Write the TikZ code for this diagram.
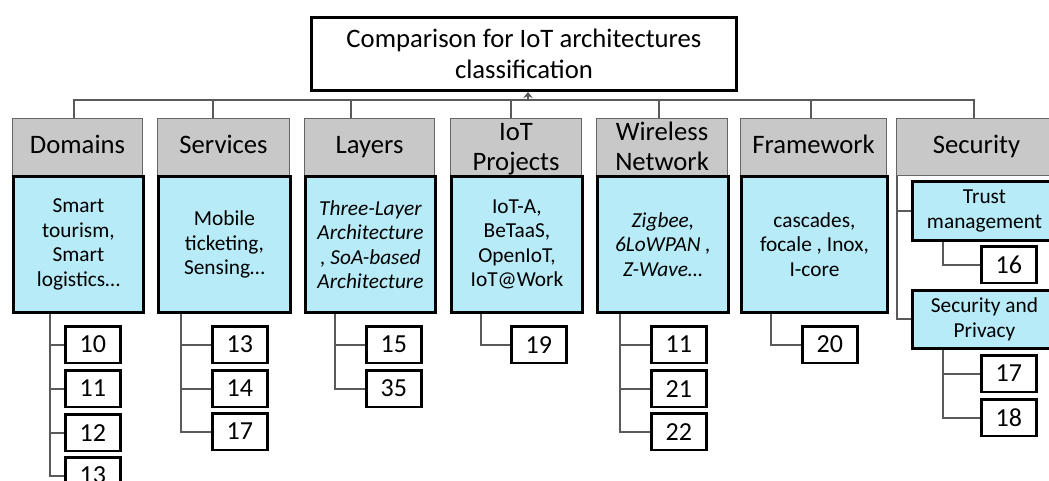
\documentclass[tikz,border=0pt]{standalone}
\usepackage{fontspec}
\setmainfont{Carlito}
\usetikzlibrary{arrows.meta,calc}

\definecolor{hdrgray}{RGB}{200,200,200}
\definecolor{cellblue}{RGB}{183,235,247}
\definecolor{linkgray}{RGB}{90,90,90}

\tikzset{
  sz/.style 2 args={minimum width=#1*0.75pt, minimum height=#2*0.75pt},
  hdr/.style={draw=gray!80!black, line width=0.8pt, fill=hdrgray, anchor=north west, inner sep=0pt,
    align=center, font=\fontsize{20}{23}\selectfont},
  cell/.style={draw=black, line width=2.2pt, fill=cellblue, anchor=north west, inner sep=0pt,
    align=center, font=\fontsize{16}{18.4}\selectfont},
  refbox/.style={draw=black, line width=2pt, fill=white, anchor=north west, inner sep=0pt,
    sz={55}{36.5}, font=\fontsize{19.5}{22}\selectfont},
  link/.style={draw=linkgray, line width=1.5pt},
}

\begin{document}
\begin{tikzpicture}[x=0.75pt,y=-0.75pt]
\useasboundingbox (0,0) rectangle (1049,480);

%title
\node[draw=black, line width=2.2pt, anchor=north west, inner sep=0pt, sz={425}{73}, align=center,
  font=\fontsize{20}{23.5}\selectfont] (title) at (310,16) {Comparison for IoT architectures\\classification};

%headers
\node[hdr, sz={130}{57}] (dom) at (12,118) {Domains\strut};
\node[hdr, sz={132}{57}] (ser) at (157,118) {Services\strut};
\node[hdr, sz={130}{57}] (lay) at (304,118) {Layers\strut};
\node[hdr, sz={131}{57}] (prj) at (450,118) {IoT\strut\\Projects\strut};
\node[hdr, sz={131}{57}] (wls) at (596,118) {Wireless\strut\\Network\strut};
\node[hdr, sz={146}{57}] (frm) at (740,118) {Framework\strut};
\node[hdr, sz={160}{57}] (sec) at (896,118) {Security\strut};

%bus to the title
\coordinate (bus) at (528,100);
\draw[link, -{Stealth[length=4.5pt,width=7pt]}] (bus) -- (bus |- title.south);
\draw[link] ($(dom.north)+(-4,0)$) |- (bus);
\draw[link] ($(ser.north)+(-11,0)$) |- (bus);
\draw[link] ($(lay.north)+(-19,0)$) |- (bus);
\draw[link] ($(prj.north)+(-5,0)$) |- (bus);
\draw[link] ($(wls.north)+(-3,0)$) |- (bus);
\draw[link] ($(frm.north)+(-3,0)$) |- (bus);
\draw[link] ($(sec.north)+(-3,0)$) |- (bus);

%blue cells
\node[cell, sz={130}{136}] (domc) at (12,175) {Smart\\tourism,\\Smart\\logistics…};
\node[cell, sz={132}{136}] (serc) at (157,175) {Mobile\\ticketing,\\Sensing…};
\node[cell, sz={130}{136}, font=\fontsize{16}{18.4}\selectfont\itshape] (layc) at (304,175) {Three-Layer\\Architecture\\, SoA-based\\Architecture};
\node[cell, sz={131}{136}] (prjc) at (450,175) {IoT-A,\\BeTaaS,\\OpenIoT,\\IoT@Work};
\node[cell, sz={131}{136}, font=\fontsize{16}{18.4}\selectfont\itshape] (wlsc) at (596,175) {Zigbee,\\6LoWPAN ,\\Z-Wave…};
\node[cell, sz={146}{136}] (frmc) at (740,175) {cascades,\\focale , Inox,\\I-core};
\node[cell, sz={144}{59}, font=\fontsize{16}{19}\selectfont] (trust) at (911,180) {Trust\\management};
\node[cell, sz={144}{58}, font=\fontsize{16}{19}\selectfont] (secpriv) at (911,289) {Security and\\Privacy};

%reference boxes
\node[refbox] (dom10) at (64,325) {10};
\node[refbox] (dom11) at (64,369) {11};
\node[refbox] (dom12) at (64,413) {12};
\node[refbox] (dom13) at (64,456) {13};
\node[refbox] (ser13) at (211,325) {13};
\node[refbox] (ser14) at (211,369) {14};
\node[refbox] (ser17) at (211,412) {17};
\node[refbox] (lay15) at (365,325) {15};
\node[refbox] (lay35) at (365,369) {35};
\node[refbox] (prj19) at (510,325) {19};
\node[refbox] (wls11) at (650,325) {11};
\node[refbox] (wls21) at (650,369) {21};
\node[refbox] (wls22) at (650,412) {22};
\node[refbox] (frm20) at (801,325) {20};
\node[refbox] (sec16) at (980,245) {16};
\node[refbox] (sec17) at (980,354) {17};
\node[refbox] (sec18) at (980,398) {18};

%trunks
\coordinate (domT) at ($(domc.south west)+(38,0)$);
\draw[link] (domT) |- (dom10.west);
\draw[link] (domT) |- (dom11.west);
\draw[link] (domT) |- (dom12.west);
\draw[link] (domT) |- (dom13.west);
\coordinate (serT) at ($(serc.south west)+(24,0)$);
\draw[link] (serT) |- (ser13.west);
\draw[link] (serT) |- (ser14.west);
\draw[link] (serT) |- (ser17.west);
\coordinate (layT) at ($(layc.south west)+(31,0)$);
\draw[link] (layT) |- (lay15.west);
\draw[link] (layT) |- (lay35.west);
\coordinate (prjT) at ($(prjc.south west)+(31,0)$);
\draw[link] (prjT) |- (prj19.west);
\coordinate (wlsT) at ($(wlsc.south west)+(24,0)$);
\draw[link] (wlsT) |- (wls11.west);
\draw[link] (wlsT) |- (wls21.west);
\draw[link] (wlsT) |- (wls22.west);
\coordinate (frmT) at ($(frmc.south west)+(31,0)$);
\draw[link] (frmT) |- (frm20.west);
\coordinate (secT) at ($(sec.south west)+(1,0)$);
\draw[link] (secT) |- (trust.west);
\draw[link] (secT) |- (secpriv.west);
\coordinate (trustT) at ($(trust.south west)+(32,0)$);
\draw[link] (trustT) |- (sec16.west);
\coordinate (privT) at ($(secpriv.south west)+(32,0)$);
\draw[link] (privT) |- (sec17.west);
\draw[link] (privT) |- (sec18.west);
\end{tikzpicture}
\end{document}
